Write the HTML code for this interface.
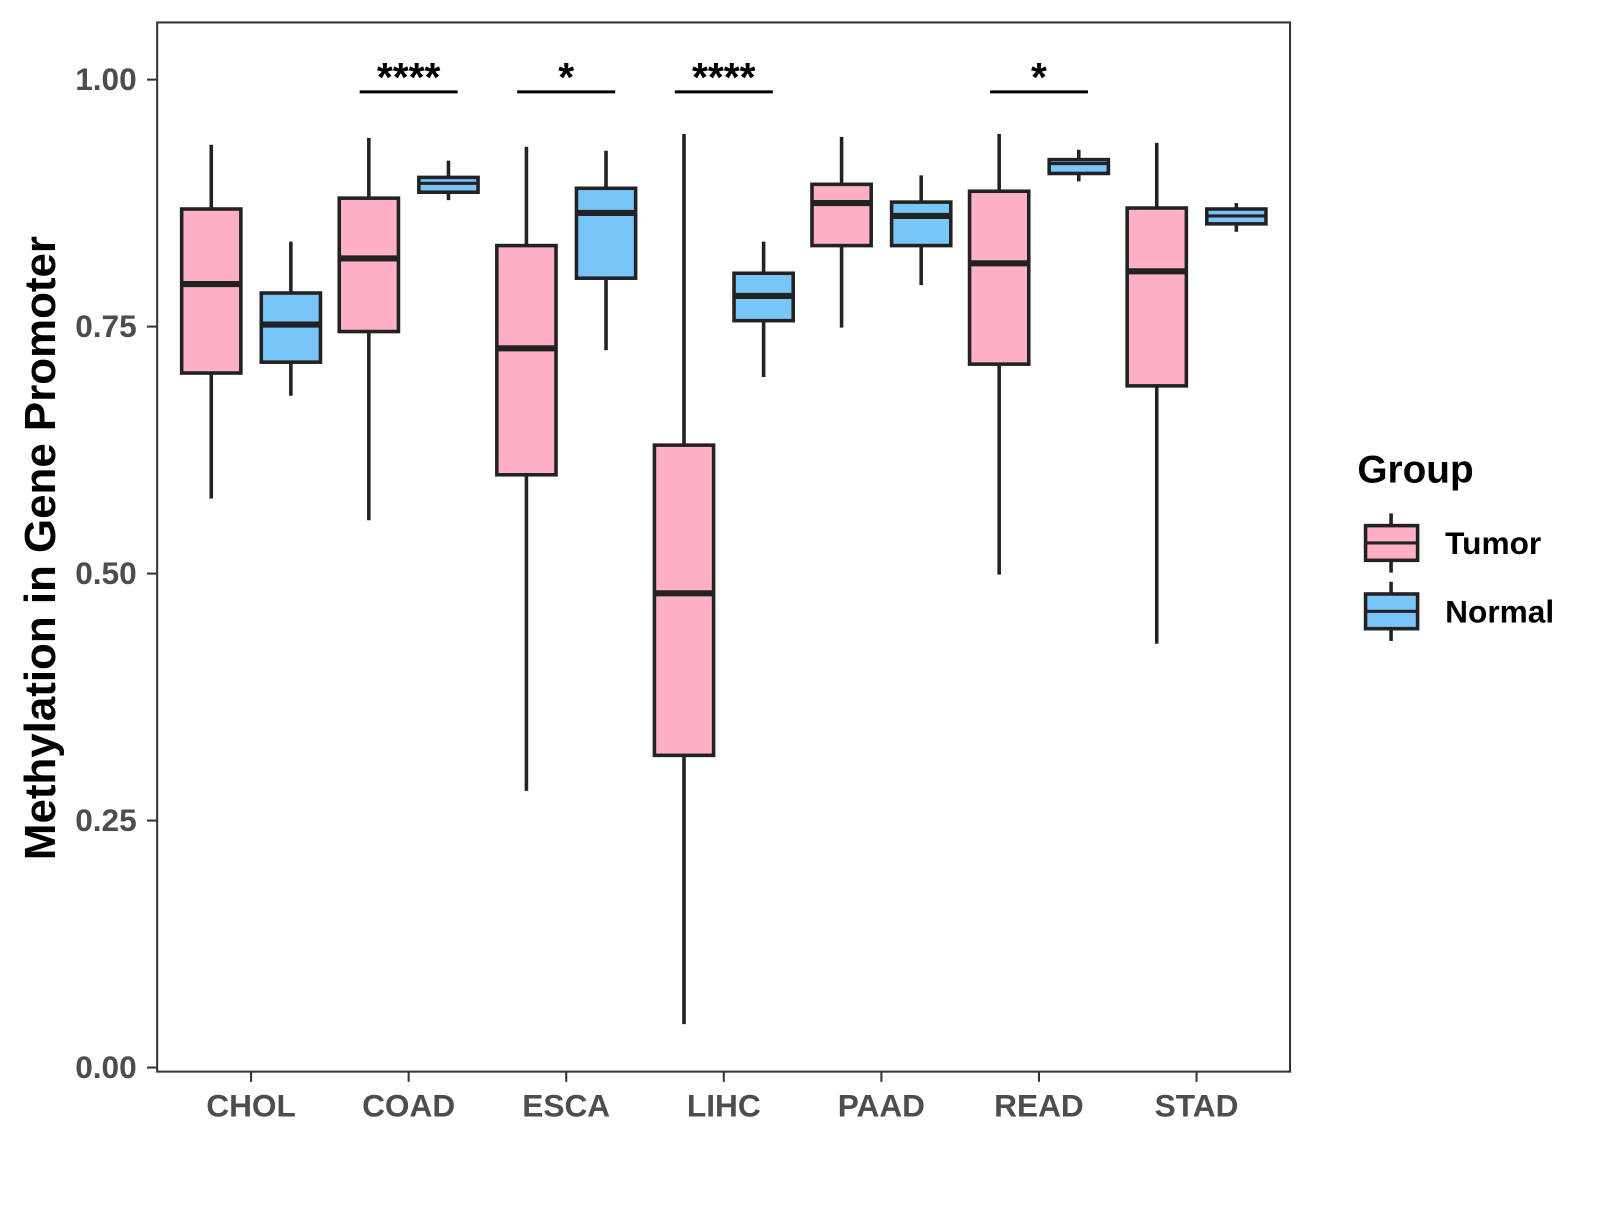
<!DOCTYPE html>
<html><head><meta charset="utf-8"><style>
body{margin:0;background:#fff;}
svg text{font-family:"Liberation Sans",Arial,sans-serif;font-weight:bold;}
</style></head><body>
<svg id="chart" width="1600" height="1200" viewBox="0 0 1600 1200" xmlns="http://www.w3.org/2000/svg">
<rect width="1600" height="1200" fill="#fff"/>
<g id="plot" transform="scale(1.0206)"></g>
</svg>
<script>
const categories=["CHOL","COAD","ESCA","LIHC","PAAD","READ","STAD"];
// [low, q1, median, q3, high]
const tumorStats=[[0.576,0.703,0.793,0.869,0.934],[0.554,0.745,0.819,0.880,0.941],[0.280,0.600,0.728,0.832,0.932],[0.044,0.316,0.480,0.630,0.945],[0.749,0.832,0.875,0.894,0.942],[0.499,0.712,0.814,0.887,0.945],[0.429,0.690,0.806,0.870,0.936]];
const normalStats=[[0.680,0.714,0.752,0.784,0.836],[0.878,0.886,0.895,0.901,0.918],[0.726,0.799,0.865,0.890,0.928],[0.699,0.756,0.781,0.804,0.836],[0.792,0.832,0.862,0.876,0.903],[0.897,0.905,0.915,0.919,0.929],[0.846,0.854,0.862,0.869,0.875]];
const sigLabels=["","****","*","****","","*",""];
const yTicks=[0,0.25,0.5,0.75,1.0];
const yTickLabels=["0.00","0.25","0.50","0.75","1.00"];

const NS="http://www.w3.org/2000/svg";
const g=document.getElementById('plot');
function y(v){return 1046-968*v;}
function x(i){return 246+154.4*i;}
function mk(t,a,p){const e=document.createElementNS(NS,t);for(const k in a)e.setAttribute(k,a[k]);(p||g).appendChild(e);return e;}

const panel=mk('rect',{x:154,y:22,width:1110,height:1028,fill:'none',stroke:'#333','stroke-width':2});



yTicks.forEach((t,i)=>{
  mk('line',{x1:144,x2:154,y1:y(t),y2:y(t),stroke:'#333','stroke-width':2});
  const tx=mk('text',{x:134,y:y(t)+10,'text-anchor':'end','font-size':31,fill:'#4d4d4d'});
  tx.textContent=yTickLabels[i];
  
  
});
categories.forEach((c,i)=>{
  mk('line',{x1:x(i),x2:x(i),y1:1050,y2:1060,stroke:'#333','stroke-width':2});
  const tx=mk('text',{x:x(i),y:1094,'text-anchor':'middle','font-size':31,fill:'#4d4d4d'});
  tx.textContent=c;
  
  
});

function box(cx,s,fill,name,thin){
  const bg=mk('g',{});
  
  
  mk('line',{x1:cx,x2:cx,y1:y(s[0]),y2:y(s[4]),stroke:'#222','stroke-width':3.5},bg);
  mk('rect',{x:cx-29,y:y(s[3]),width:58,height:y(s[1])-y(s[3]),fill:fill,stroke:'#222','stroke-width':3.5},bg);
  mk('line',{x1:cx-29,x2:cx+29,y1:y(s[2]),y2:y(s[2]),stroke:'#222','stroke-width':thin?3:6},bg);
}
categories.forEach((c,i)=>{
  box(x(i)-39,tumorStats[i],'#FFB0C4','box-tumor-'+c.toLowerCase(),false);
  const n=normalStats[i];
  box(x(i)+39,n,'#7AC5F8','box-normal-'+c.toLowerCase(),(y(n[1])-y(n[3]))<20);
  if(sigLabels[i]){
    mk('line',{x1:x(i)-48,x2:x(i)+48,y1:90,y2:90,stroke:'#000','stroke-width':3});
    const tx=mk('text',{x:x(i),y:89,'text-anchor':'middle','font-size':40,fill:'#000'});
    tx.textContent=sigLabels[i];
    
    
  }
});

const yt=mk('text',{x:0,y:0,'text-anchor':'middle','font-size':43,fill:'#000',transform:'translate(54,537) rotate(-90)'});
yt.textContent='Methylation in Gene Promoter';



const lt=mk('text',{x:1330,y:473,'font-size':38,fill:'#000'});
lt.textContent='Group';


[['Tumor','#FFB0C4',532],['Normal','#7AC5F8',599]].forEach(([lab,f,cy])=>{
  const lg=mk('g',{});
  
  
  mk('line',{x1:1363,x2:1363,y1:cy-29,y2:cy+29,stroke:'#222','stroke-width':3.5},lg);
  mk('rect',{x:1338,y:cy-17,width:51,height:34,fill:f,stroke:'#222','stroke-width':3.5},lg);
  mk('line',{x1:1338,x2:1389,y1:cy,y2:cy,stroke:'#222','stroke-width':3},lg);
  const t=mk('text',{x:1416,y:cy+11,'font-size':31,fill:'#000'},lg);
  t.textContent=lab;
});
</script>
</body></html>
